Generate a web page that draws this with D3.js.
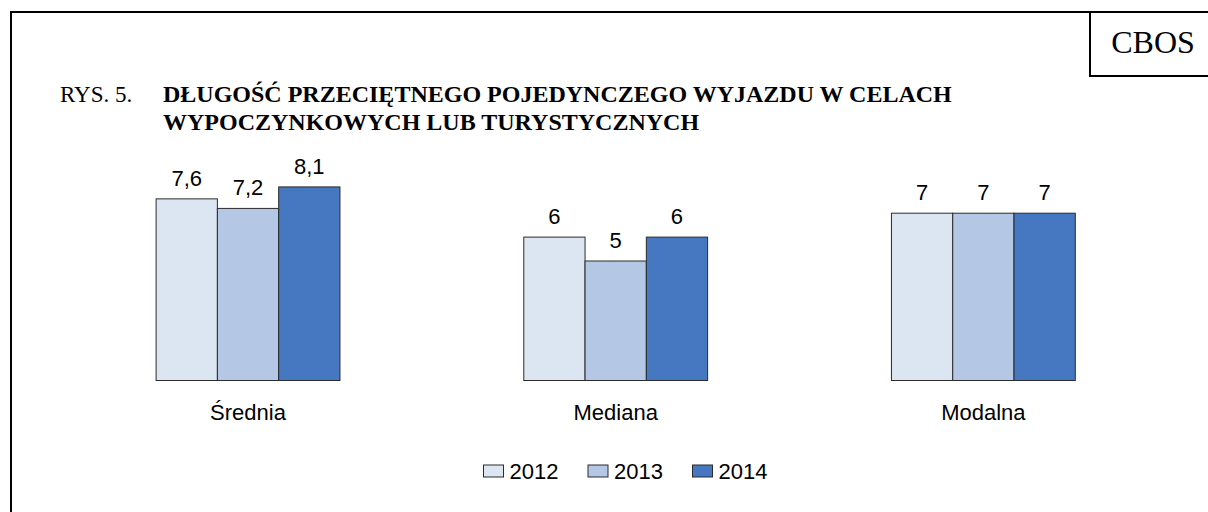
<!DOCTYPE html>
<html>
<head>
<meta charset="utf-8">
<script src="https://cdn.jsdelivr.net/npm/d3@7"></script>
<style>
  body { margin: 0; background: #fff; }
  svg { display: block; }
</style>
</head>
<body>
<script>

var categories = ["Średnia", "Mediana", "Modalna"];
var years = ["2012", "2013", "2014"];
var values = {
	"2012": [7.6, 6, 7],
	"2013": [7.2, 5, 7],
	"2014": [8.1, 6, 7]
};
var valueLabels = {
	"2012": ["7,6", "6", "7"],
	"2013": ["7,2", "5", "7"],
	"2014": ["8,1", "6", "7"]
};
var colors = ["#dce6f2", "#b4c8e5", "#4678c2"];

var size_graph = { x: 1208, y: 512 };

var svg = d3.select("body").append("svg")
	.attr("width", size_graph.x)
	.attr("height", size_graph.y);

// frame + logo box
svg.append("path")
	.attr("d", "M11,512 V12 H1210")
	.attr("fill", "none")
	.attr("stroke", "#000")
	.attr("stroke-width", 2);

svg.append("path")
	.attr("d", "M1090,12 V76 H1210")
	.attr("fill", "none")
	.attr("stroke", "#000")
	.attr("stroke-width", 2);

var serif = "'Liberation Serif', 'Times New Roman', serif";
var sans = "'Liberation Sans', Arial, sans-serif";

svg.append("text")
	.attr("x", 1153).attr("y", 52.5)
	.attr("text-anchor", "middle")
	.style("font-family", serif)
	.style("font-size", "32px")
	.text("CBOS");

// title
svg.append("text")
	.attr("x", 60).attr("y", 102)
	.style("font-family", serif)
	.style("font-size", "23px")
	.text("RYS. 5.");

var title = svg.append("text")
	.style("font-family", serif)
	.style("font-size", "24px")
	.style("font-weight", "bold");
title.append("tspan").attr("x", 163).attr("y", 102)
	.text("DŁUGOŚĆ PRZECIĘTNEGO POJEDYNCZEGO WYJAZDU W CELACH");
title.append("tspan").attr("x", 163).attr("y", 129.5)
	.text("WYPOCZYNKOWYCH LUB TURYSTYCZNYCH");

// scales
var x0 = d3.scaleBand()
	.domain(categories)
	.range([64.2, 1167.2])
	.paddingInner(0.5)
	.paddingOuter(0.25);

var x1 = d3.scaleBand()
	.domain(years)
	.range([0, x0.bandwidth()]);

var y = d3.scaleLinear()
	.domain([0, 9])
	.range([380.5, 380.5 - 9 * 23.9]);

var rows = [];
years.forEach(function(yr, j) {
	categories.forEach(function(c, i) {
		rows.push({ cat: c, year: yr, v: values[yr][i], label: valueLabels[yr][i], color: colors[j] });
	});
});

svg.selectAll(".bar")
	.data(rows)
	.enter().append("rect")
	.attr("class", "bar")
	.attr("x", d => x0(d.cat) + x1(d.year))
	.attr("y", d => y(d.v))
	.attr("width", x1.bandwidth())
	.attr("height", d => y(0) - y(d.v))
	.attr("fill", d => d.color)
	.attr("stroke", "#2b2b2b")
	.attr("stroke-width", 1);

svg.selectAll(".val")
	.data(rows)
	.enter().append("text")
	.attr("class", "val")
	.attr("x", d => x0(d.cat) + x1(d.year) + x1.bandwidth() / 2)
	.attr("y", d => y(d.v) - 13)
	.attr("text-anchor", "middle")
	.style("font-family", sans)
	.style("font-size", "22px")
	.text(d => d.label);

svg.selectAll(".cat")
	.data(categories)
	.enter().append("text")
	.attr("class", "cat")
	.attr("x", d => x0(d) + x0.bandwidth() / 2)
	.attr("y", 419.5)
	.attr("text-anchor", "middle")
	.style("font-family", sans)
	.style("font-size", "22px")
	.text(d => d);

// legend
var legend = svg.selectAll(".leg")
	.data(years)
	.enter().append("g")
	.attr("class", "leg")
	.attr("transform", (d, i) => `translate(${483.5 + i * 104.5},465)`);

legend.append("rect")
	.attr("width", 20)
	.attr("height", 12)
	.attr("fill", (d, i) => colors[i])
	.attr("stroke", "#2b2b2b")
	.attr("stroke-width", 1);

legend.append("text")
	.attr("x", 26)
	.attr("y", 14)
	.style("font-family", sans)
	.style("font-size", "22px")
	.text(d => d);

</script>
</body>
</html>
